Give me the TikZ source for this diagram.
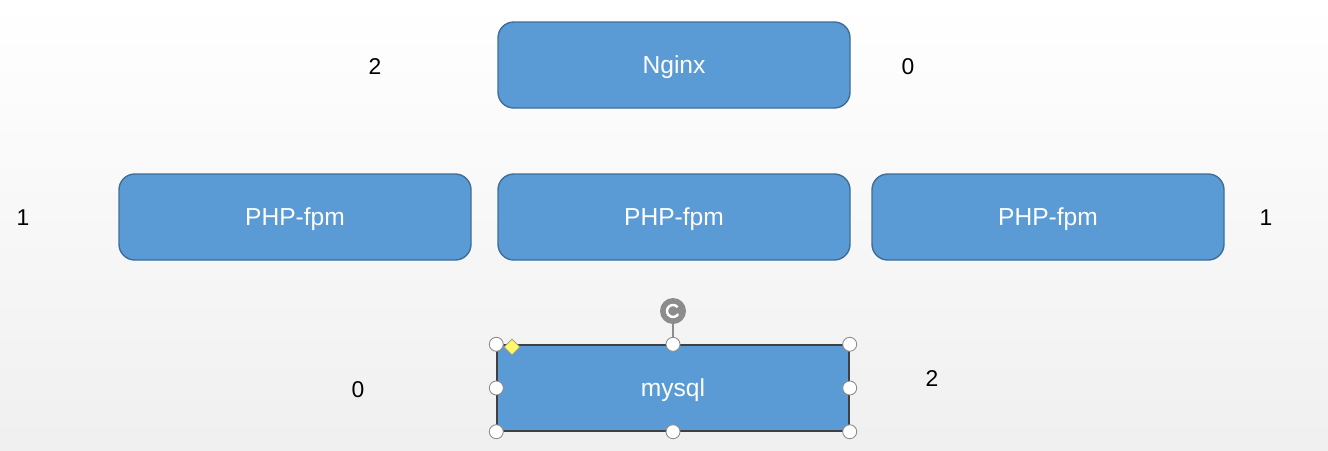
\documentclass[tikz,border=0pt]{standalone}
\usepackage{fontspec}
\setmainfont{Liberation Sans}
\usetikzlibrary{shapes.geometric}
\definecolor{boxfill}{HTML}{5B9BD5}
\definecolor{boxline}{HTML}{3F6E97}
\definecolor{handleline}{HTML}{8C8C8C}
\begin{document}
\begin{tikzpicture}[x=0.02cm,y=-0.02cm,
  rbox/.style={draw=boxline,line width=0.8pt,fill=boxfill,rounded corners=9pt,
    minimum width=352*0.02cm,minimum height=86*0.02cm,inner sep=0pt,
    text height=10pt,text depth=0pt,
    text=white,font=\fontsize{14}{16}\selectfont},
  sbox/.style={rbox,rounded corners=0pt,draw=black!75},
  num/.style={font=\fontsize{13}{15}\selectfont,text=black,inner sep=0pt,text height=9.3pt,text depth=0pt},
  handle/.style={circle,draw=handleline,fill=white,line width=0.5pt,minimum size=14*0.02cm,inner sep=0pt}]
% background
\shade[top color=white,bottom color=black!6] (0,0) rectangle (1328,450);
\useasboundingbox (0,0) rectangle (1328,450);
% boxes
\node[rbox] (nginx) at (674,65) {Nginx};
\node[rbox] (php1) at (295,217) {PHP-fpm};
\node[rbox] (php2) at (674,217) {PHP-fpm};
\node[rbox] (php3) at (1048,217) {PHP-fpm};
\node[sbox] (mysql) at (673,388) {mysql};
% numbers
\node[num] (n1) at (375,66) {2};
\node[num] (n2) at (908,66) {0};
\node[num] (n3) at (23,217) {1};
\node[num] (n4) at (1266,217) {1};
\node[num] (n5) at (358,389) {0};
\node[num] (n6) at (932,378) {2};
% selection handles on mysql
\coordinate (rot) at (673,311);
\draw[handleline,line width=0.6pt] (rot) -- (mysql.north);
\node[circle,fill=black!45,minimum size=26*0.02cm,inner sep=0pt] (rotc) at (rot) {};
\draw[white,line width=1.4pt] ([shift={(40:6*0.02cm)}]rot) arc[start angle=40,end angle=330,radius=6*0.02cm];
\foreach \a in {north west,north,north east,west,east,south west,south,south east}
  \node[handle] at (mysql.\a) {};
\node[diamond,draw=black!40,fill=yellow!60,minimum size=16*0.02cm,inner sep=0pt] (adj) at (512,347) {};
\end{tikzpicture}
\end{document}
